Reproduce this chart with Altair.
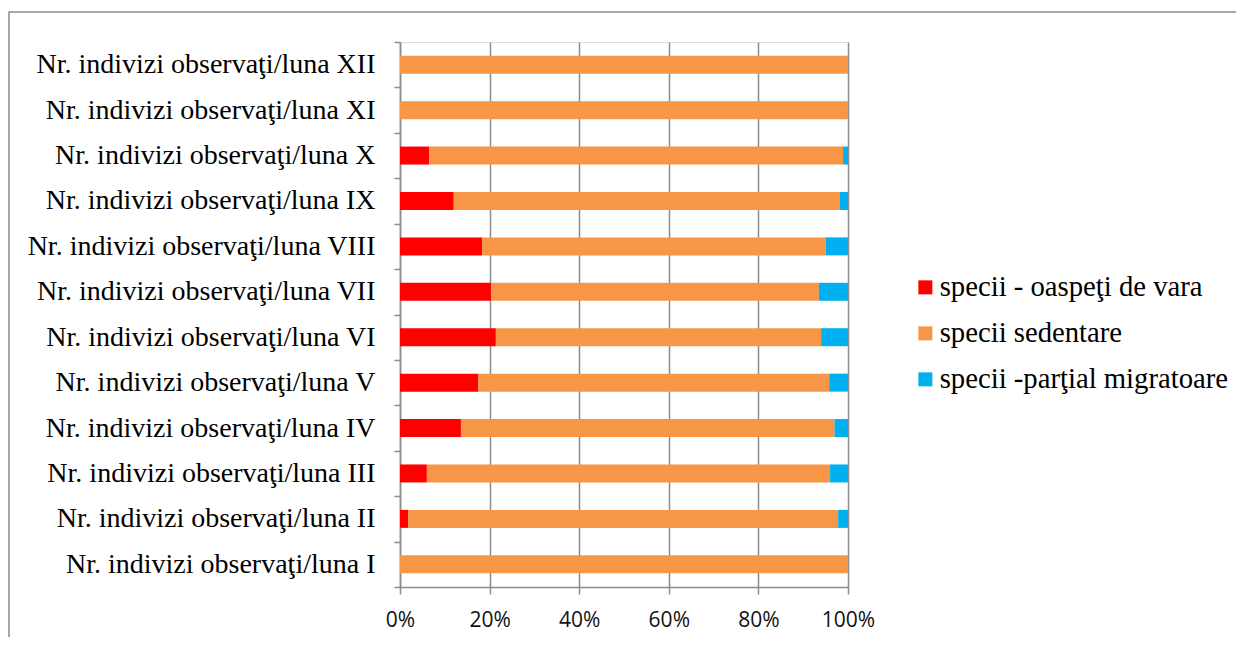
import altair as alt
import pandas as pd

months = ["I", "II", "III", "IV", "V", "VI", "VII", "VIII", "IX", "X", "XI", "XII"]
labels = ["Nr. indivizi observaţi/luna " + m for m in months]

series = ["specii - oaspeţi de vara", "specii sedentare", "specii -parţial migratoare"]
colors = ["#FF0000", "#F79646", "#00B0F0"]

oaspeti = [0, 1.8, 6.0, 13.6, 17.5, 21.4, 20.3, 18.3, 12.0, 6.5, 0, 0]
sedentare = [100, 96.0, 90.0, 83.4, 78.3, 72.6, 73.2, 76.7, 86.2, 92.4, 100, 100]
partial = [0, 2.2, 4.0, 3.0, 4.2, 6.0, 6.5, 5.0, 1.8, 1.1, 0, 0]

rows = []
for i, lab in enumerate(labels):
    for k, vals in enumerate([oaspeti, sedentare, partial]):
        rows.append({"luna": lab, "serie": series[k], "ord": k, "val": vals[i]})
df = pd.DataFrame(rows)

grey = "#8c8c8c"

bars = alt.Chart(df).mark_bar(size=18).encode(
    x=alt.X("val:Q", stack="normalize",
            scale=alt.Scale(domain=[0, 1], nice=False),
            axis=alt.Axis(format="%", values=[0, 0.2, 0.4, 0.6, 0.8, 1.0], title=None,
                          grid=True, gridColor=grey, gridWidth=1.5,
                          domainColor=grey, domainWidth=1.5,
                          tickColor=grey, tickWidth=1.5, tickSize=7,
                          labelFlush=False, labelOverlap=False,
                          labelFont="Open Sans", labelFontSize=21, labelColor="#111111",
                          labelPadding=15)),
    y=alt.Y("luna:N", sort=labels[::-1],
            scale=alt.Scale(paddingInner=0, paddingOuter=0),
            axis=alt.Axis(title=None, tickBand="extent", grid=False,
                          domainColor=grey, domainWidth=1.5,
                          tickColor=grey, tickWidth=1.5, tickSize=6,
                          labelFont="Liberation Serif", labelFontSize=28, labelColor="#000000",
                          labelPadding=19, labelLimit=600)),
    color=alt.Color("serie:N", scale=alt.Scale(domain=series, range=colors),
                    legend=alt.Legend(title=None, orient="none", legendX=511, legendY=231,
                                      symbolType="square", symbolSize=196, symbolStrokeWidth=0,
                                      labelFont="Liberation Serif", labelFontSize=28.7,
                                      labelColor="#000000", labelOffset=0, rowPadding=16,
                                      padding=0, labelLimit=600)),
    order=alt.Order("ord:Q"),
)

frame = alt.Chart(alt.Data(values=[{"a": 1}])).mark_rect(
    filled=False, stroke=grey, strokeWidth=1.5
).encode(
    x=alt.value(-391), x2=alt.value(846), y=alt.value(-30), y2=alt.value(700)
)

chart = alt.layer(frame, bars).properties(
    width=448, height=545,
    autosize=alt.AutoSizeParams(type="none"),
    padding={"left": 392, "top": 34, "right": 388, "bottom": 50},
).configure_view(stroke=None).configure(background="white")

chart.save("out.html", embed_options={"renderer": "svg", "actions": False})
